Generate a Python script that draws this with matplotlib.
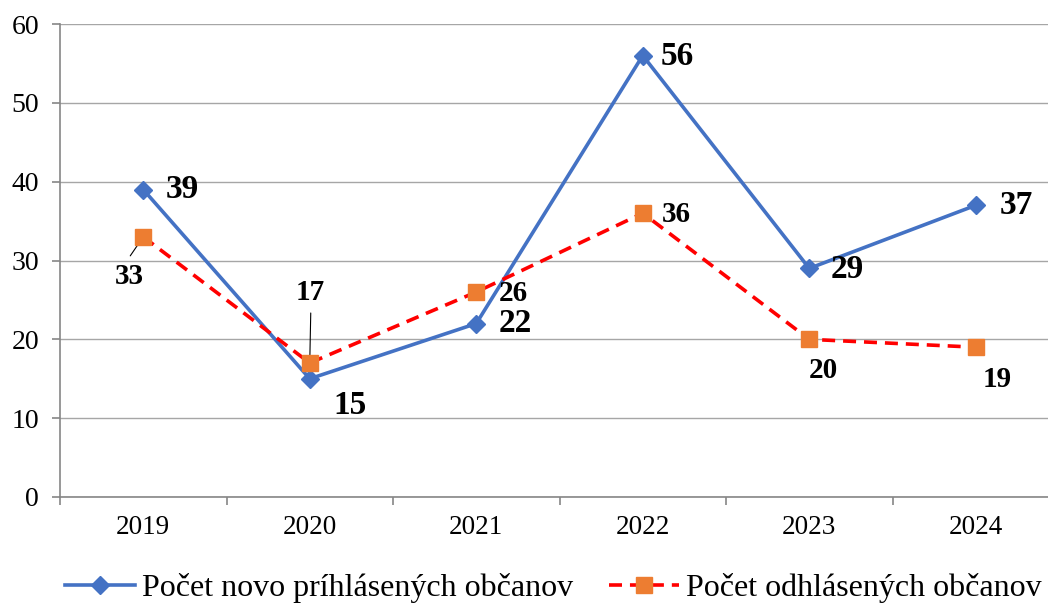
import numpy as np
import matplotlib.pyplot as plt
from matplotlib.ticker import FixedLocator

years = ['2019', '2020', '2021', '2022', '2023', '2024']
prihlaseni = [39, 15, 22, 56, 29, 37]
odhlaseni = [33, 17, 26, 36, 20, 19]

# label offsets in pixels (dx, dy) relative to the point
off_prih = [(39, 0), (40, -27), (39, 0), (34, -1), (38, -1), (41, 0)]
off_odh = [(-14, -40), (0, 70), (37, -1), (34, -1), (14, -31), (21, -32)]

plt.rcParams['font.family'] = ['Liberation Serif', 'DejaVu Serif']

fig = plt.figure(figsize=(10.48, 6.05), dpi=100)
ax = fig.add_axes([60 / 1048, (605 - 497) / 605, 1 - 60 / 1048, 473 / 605])

x = np.arange(len(years))
grid_c = '#a6a6a6'
axis_c = '#868686'

ax.plot(x, prihlaseni, color='#4472c4', lw=2.6, marker='D', ms=9,
        mfc='#4472c4', mec='#4472c4', label='Počet novo príhlásených občanov', zorder=3)
ax.plot(x, odhlaseni, color='#ff0000', lw=2.6, dashes=(3.6, 2.2), marker='s', ms=12,
        mfc='#ed7d31', mec='#ed7d31', label='Počet odhlásených občanov', zorder=4)

for xi, v, (dx, dy) in zip(x, prihlaseni, off_prih):
    ax.annotate(str(v), (xi, v), xytext=(dx, dy), textcoords='offset pixels',
                ha='center', va='center', fontsize=24, fontweight='bold', zorder=5)

for xi, v, (dx, dy) in zip(x, odhlaseni, off_odh):
    ax.annotate(str(v), (xi, v), xytext=(dx, dy), textcoords='offset pixels',
                ha='center', va='center', fontsize=21, fontweight='bold', zorder=5)

# leader lines for the two displaced labels
ax.annotate('', (x[0], odhlaseni[0]), xytext=(-13, -19), textcoords='offset pixels',
            arrowprops=dict(arrowstyle='-', color='black', lw=0.8, shrinkA=0, shrinkB=0))
ax.annotate('', (x[1], odhlaseni[1]), xytext=(1, 50), textcoords='offset pixels',
            arrowprops=dict(arrowstyle='-', color='black', lw=0.8, shrinkA=0, shrinkB=3))

ax.set_ylim(0, 60)
ax.set_yticks(np.arange(0, 61, 10))
spacing = 166.5
ax.set_xlim(-0.5, -0.5 + (1048 - 60) / spacing)
ax.set_xticks(x)
ax.set_xticklabels(years)
ax.xaxis.set_minor_locator(FixedLocator(np.arange(-0.5, 6, 1.0)))

ax.grid(axis='y', color=grid_c, lw=1)
ax.set_axisbelow(True)
for s in ['top', 'right']:
    ax.spines[s].set_visible(False)
for s in ['left', 'bottom']:
    ax.spines[s].set_color(axis_c)
    ax.spines[s].set_linewidth(1.2)

ax.tick_params(axis='y', which='major', length=6, color=axis_c, width=1.2,
               labelsize=20, pad=9)
ax.tick_params(axis='x', which='major', length=0, labelsize=19.5, pad=13)
ax.tick_params(axis='x', which='minor', length=6, color=axis_c, width=1.2)

fig.legend(loc='lower center', bbox_to_anchor=(0.528, -0.045), ncol=2, frameon=False,
           fontsize=23, handlelength=2.2, columnspacing=1.1, handletextpad=0.22)

fig.savefig('out.png', dpi=100)
